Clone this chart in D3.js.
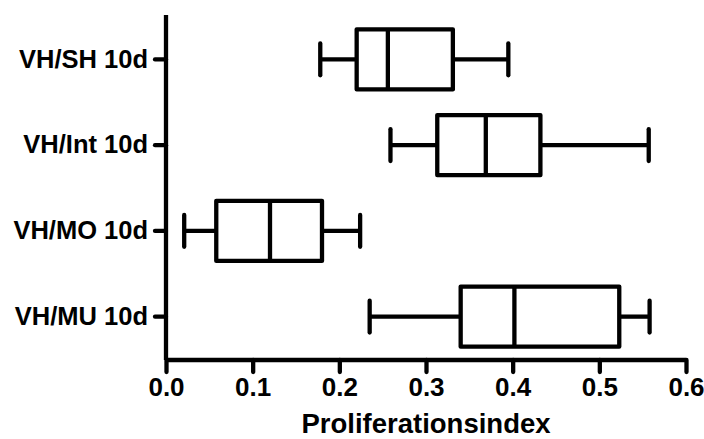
<!DOCTYPE html>
<html>
<head>
<meta charset="utf-8">
<script src="https://cdn.jsdelivr.net/npm/d3@7"></script>
<style>
  html, body { margin: 0; padding: 0; background: #fff; }
  svg text { font-family: "Liberation Sans", Arial, sans-serif; font-weight: bold; fill: #000; }
</style>
</head>
<body>
<svg id="chart" width="704" height="439"></svg>
<script>
const categories = ["VH/SH 10d", "VH/Int 10d", "VH/MO 10d", "VH/MU 10d"];
const mins    = [0.178, 0.259, 0.021, 0.235];
const q1s     = [0.220, 0.313, 0.058, 0.340];
const medians = [0.256, 0.369, 0.120, 0.402];
const q3s     = [0.331, 0.432, 0.180, 0.523];
const maxs    = [0.395, 0.557, 0.224, 0.558];
const xTicks  = [0, 0.1, 0.2, 0.3, 0.4, 0.5, 0.6];
const xTitle  = "Proliferationsindex";

const rows = categories.map((c, i) => ({
  cat: c, min: mins[i], q1: q1s[i], med: medians[i], q3: q3s[i], max: maxs[i]
}));

const svg = d3.select("#chart");
const x = d3.scaleLinear().domain([0, 0.6]).range([166, 686]);
const y = d3.scaleBand().domain(categories).range([16.5, 359.5]);
const yAxisTop = 15, xAxisY = 360;

const boxH = y.bandwidth() * 0.70;
const capH = y.bandwidth() * 0.37;
const sw = 4.3;

// X axis
const xAxis = svg.append("g")
  .attr("transform", `translate(0,${xAxisY})`)
  .call(d3.axisBottom(x).tickValues(xTicks).tickFormat(d3.format(".1f"))
        .tickSize(12).tickSizeOuter(0).tickPadding(5));
xAxis.select(".domain").attr("stroke", "#000").attr("stroke-width", sw)
  .attr("d", `M${x(0)},0H${x(0.6)}`);
xAxis.selectAll(".tick line").attr("stroke", "#000").attr("stroke-width", sw)
  .attr("stroke-linecap", "round");
xAxis.selectAll(".tick text").attr("font-size", 26).attr("dy", "0.72em");

// Y axis
const yAxis = svg.append("g")
  .attr("transform", `translate(${x(0)},0)`)
  .call(d3.axisLeft(y).tickSize(11).tickSizeOuter(0).tickPadding(7));
yAxis.select(".domain").attr("stroke", "#000").attr("stroke-width", sw)
  .attr("d", `M0,${yAxisTop}V${xAxisY}`);
yAxis.selectAll(".tick line").attr("stroke", "#000").attr("stroke-width", sw)
  .attr("stroke-linecap", "round");
yAxis.selectAll(".tick text").attr("font-size", 25.5);

// X title
svg.append("text")
  .attr("x", (x(0) + x(0.6)) / 2)
  .attr("y", 433)
  .attr("text-anchor", "middle")
  .attr("font-size", 27.5)
  .text(xTitle);

// Boxes
const g = svg.append("g").attr("stroke", "#000").attr("stroke-width", sw).attr("fill", "none");
rows.forEach(r => {
  const cy = y(r.cat) + y.bandwidth() / 2;
  const bg = g.append("g");
  bg.append("line").attr("x1", x(r.min)).attr("x2", x(r.q1)).attr("y1", cy).attr("y2", cy);
  bg.append("line").attr("x1", x(r.q3)).attr("x2", x(r.max)).attr("y1", cy).attr("y2", cy);
  bg.append("line").attr("x1", x(r.min)).attr("x2", x(r.min))
    .attr("y1", cy - capH / 2).attr("y2", cy + capH / 2).attr("stroke-linecap", "round");
  bg.append("line").attr("x1", x(r.max)).attr("x2", x(r.max))
    .attr("y1", cy - capH / 2).attr("y2", cy + capH / 2).attr("stroke-linecap", "round");
  bg.append("rect").attr("x", x(r.q1)).attr("y", cy - boxH / 2)
    .attr("width", x(r.q3) - x(r.q1)).attr("height", boxH)
    .attr("fill", "#fff").attr("stroke-linejoin", "round");
  bg.append("line").attr("x1", x(r.med)).attr("x2", x(r.med))
    .attr("y1", cy - boxH / 2).attr("y2", cy + boxH / 2);
});
</script>
</body>
</html>
